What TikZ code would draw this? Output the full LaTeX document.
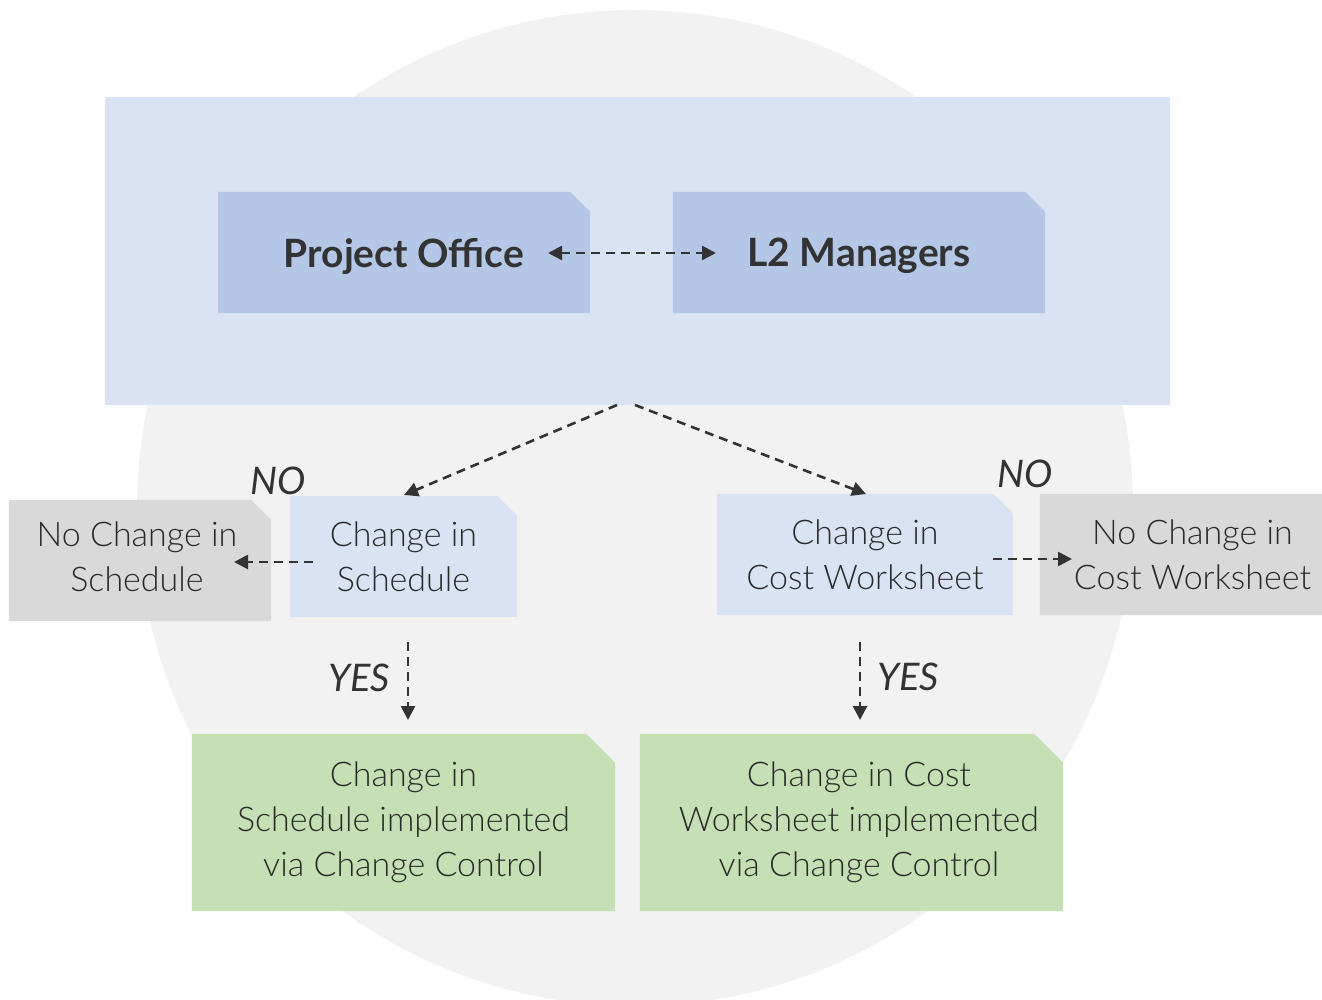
\documentclass[tikz,border=0pt]{standalone}
\usepackage{fontspec}
\setmainfont{Lato}
\newfontfamily\lightf{Lato Light}
\usetikzlibrary{arrows.meta,backgrounds}
\definecolor{circlegray}{HTML}{F2F2F2}
\definecolor{paleblue}{HTML}{DAE3F3}
\definecolor{midblue}{HTML}{B4C7E7}
\definecolor{boxgray}{HTML}{D9D9D9}
\definecolor{palegreen}{HTML}{C5E0B4}
\definecolor{ink}{HTML}{333333}
\definecolor{inklight}{HTML}{2A2A2A}
\newcommand\cutfill[3]{%
  \fill[#2] (#1.south west) -- (#1.north west) -- ([xshift=-#3pt]#1.north east)
    -- ([yshift=-#3pt]#1.north east) -- (#1.south east) -- cycle;}
\newcommand\padL{\hspace*{15pt}}
\newcommand\padR{\hspace*{6pt}}
\begin{document}
\begin{tikzpicture}[x=1pt,y=-1pt,
  box/.style={inner sep=0pt, align=center, text=inklight,
    font=\lightf\fontsize{34}{45}\selectfont},
  bigbox/.style={inner sep=0pt, align=center, text=ink, text depth=0pt,
    font=\bfseries\fontsize{39}{47}\selectfont,
    minimum width=372pt, minimum height=121pt},
  lbl/.style={inner sep=0pt, anchor=base, text=ink,
    font=\itshape\fontsize{38}{44}\selectfont},
  flow/.style={draw=ink, line width=2.6pt, dash pattern=on 9pt off 6pt,
    -{Triangle[length=14pt,width=14pt]}},
  flow2/.style={flow, {Triangle[length=14pt,width=14pt]}-{Triangle[length=14pt,width=14pt]}}
]
\useasboundingbox (0,0) rectangle (1322,1000);

% frame and boxes
\node[inner sep=0pt, minimum width=1065pt, minimum height=308pt] (frame) at (637.5,251) {};
\node[bigbox] (po) at (404,252.5) {Project Office};
\node[bigbox] (l2) at (859,252.5) {L2 Managers};
\node[box, minimum width=227pt, minimum height=121pt] (cs) at (403.5,556.5) {Change in\\Schedule};
\node[box, minimum width=262pt, minimum height=121pt, text depth=8pt] (ncs) at (140,560.5) {No Change in\padR\\Schedule\padR};
\node[box, minimum width=296pt, minimum height=121pt] (cc) at (865,554.5) {Change in\\Cost Worksheet};
\node[box, minimum width=305pt, minimum height=121pt] (ncc) at (1192.5,554.5) {No Change in\\Cost Worksheet};
\node[box, minimum width=423pt, minimum height=177pt] (gs) at (403.5,822.5) {Change in\\Schedule implemented\\via Change Control};
\node[box, minimum width=423pt, minimum height=177pt] (gc) at (851.5,822.5) {\padL Change in Cost\\\padL Worksheet implemented\\\padL via Change Control};

\begin{pgfonlayer}{background}
  \fill[circlegray] (635,508) circle[radius=498];
  \fill[paleblue] (frame.north west) rectangle (frame.south east);
  \cutfill{po}{midblue}{20}
  \cutfill{l2}{midblue}{20}
  \cutfill{cs}{paleblue}{20}
  \cutfill{ncs}{boxgray}{20}
  \cutfill{cc}{paleblue}{20}
  \cutfill{ncc}{boxgray}{20}
  \cutfill{gs}{palegreen}{29}
  \cutfill{gc}{palegreen}{29}
\end{pgfonlayer}

% labels
\node[lbl] (no1) at (278,494) {NO};
\node[lbl] (no2) at (1025,487) {NO};
\node[lbl] (yes1) at (359,691) {YES};
\node[lbl] (yes2) at (908,690) {YES};

% connector ends
\coordinate (poR) at (548,253);
\coordinate (l2L) at (716,253);
\coordinate (fL) at (617,405);
\coordinate (fR) at (635,405);
\coordinate (csT) at (404,495);
\coordinate (ccT) at (866,494);
\coordinate (csL) at (313,562);
\coordinate (ncsR) at (234,562);
\coordinate (ccR) at (993,559);
\coordinate (nccL) at (1072,559);
\coordinate (csB) at (408,642);
\coordinate (gsT) at (408,720);
\coordinate (ccB) at (860,642);
\coordinate (gcT) at (860,720);

\draw[flow2] (poR) -- (l2L);
\draw[flow] (fL) -- (csT);
\draw[flow] (fR) -- (ccT);
\draw[flow] (csL) -- (ncsR);
\draw[flow] (ccR) -- (nccL);
\draw[flow] (csB) -- (gsT);
\draw[flow] (ccB) -- (gcT);
\end{tikzpicture}
\end{document}
